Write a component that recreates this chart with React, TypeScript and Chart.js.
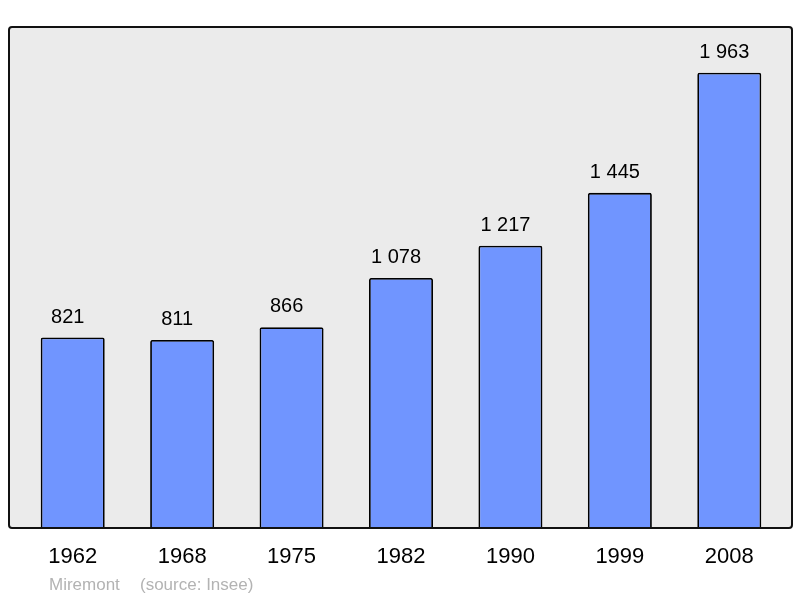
import React, { useEffect, useRef } from "react";
import { Chart, registerables } from "chart.js";

Chart.register(...registerables);

const years = ["1962", "1968", "1975", "1982", "1990", "1999", "2008"];
const population = [821, 811, 866, 1078, 1217, 1445, 1963];
const footerName = "Miremont";
const footerSource = "(source: Insee)";

function fmt(n: number): string {
  return String(n).replace(/\B(?=(\d{3})+(?!\d))/g, " ");
}

const framePlugin = {
  id: "frame",
  beforeDraw(chart: any) {
    const { ctx, chartArea } = chart;
    const l = chartArea.left - 9;
    const r = chartArea.right + 8;
    const t = chartArea.top;
    const b = chartArea.bottom;
    ctx.save();
    ctx.beginPath();
    (ctx as any).roundRect(l, t, r - l, b - t, 3);
    ctx.fillStyle = "#ebebeb";
    ctx.fill();
    ctx.restore();
  },
  afterDatasetsDraw(chart: any) {
    const { ctx, chartArea } = chart;
    const l = chartArea.left - 9;
    const r = chartArea.right + 8;
    const t = chartArea.top;
    const b = chartArea.bottom;
    ctx.save();
    ctx.beginPath();
    (ctx as any).roundRect(l, t, r - l, b - t, 3);
    ctx.lineWidth = 2;
    ctx.strokeStyle = "#111";
    ctx.stroke();
    // value labels
    const meta = chart.getDatasetMeta(0);
    ctx.fillStyle = "#000";
    ctx.font = "20px 'Liberation Sans', Arial, sans-serif";
    ctx.textAlign = "center";
    ctx.textBaseline = "alphabetic";
    meta.data.forEach((bar: any, i: number) => {
      ctx.fillText(fmt(population[i]), bar.x - 5, bar.y - 15);
    });
    // footer
    ctx.fillStyle = "#b3b3b3";
    ctx.font = "17px 'Liberation Sans', Arial, sans-serif";
    ctx.textAlign = "left";
    ctx.fillText(footerName, 49, 590);
    ctx.fillText(footerSource, 140, 590);
    ctx.restore();
  },
};

export default function App() {
  const ref = useRef<HTMLCanvasElement | null>(null);
  useEffect(() => {
    document.body.style.margin = "0";
    const chart = new Chart(ref.current as HTMLCanvasElement, {
      type: "bar",
      data: {
        labels: years,
        datasets: [
          {
            data: population,
            backgroundColor: "#7095ff",
            borderColor: "#000",
            borderWidth: 1.8,
            borderRadius: 2,
            borderSkipped: "bottom",
            barPercentage: 0.585,
            categoryPercentage: 1,
          },
        ],
      },
      options: {
        responsive: false,
        animation: false,
        layout: { padding: { left: 18, right: 16, top: 27, bottom: 0 } },
        plugins: { legend: { display: false }, tooltip: { enabled: false } },
        scales: {
          x: {
            grid: { display: false, drawTicks: false },
            border: { display: false },
            ticks: {
              color: "#000",
              padding: 16,
              font: { size: 22, family: "'Liberation Sans', Arial, sans-serif" },
            },
            afterFit: (scale: any) => {
              scale.height = 70;
            },
          },
          y: {
            display: false,
            min: 0,
            max: 2160,
          },
        },
      },
      plugins: [framePlugin],
    });
    return () => chart.destroy();
  }, []);
  return <canvas ref={ref} width={800} height={598} style={{ display: "block" }} />;
}
